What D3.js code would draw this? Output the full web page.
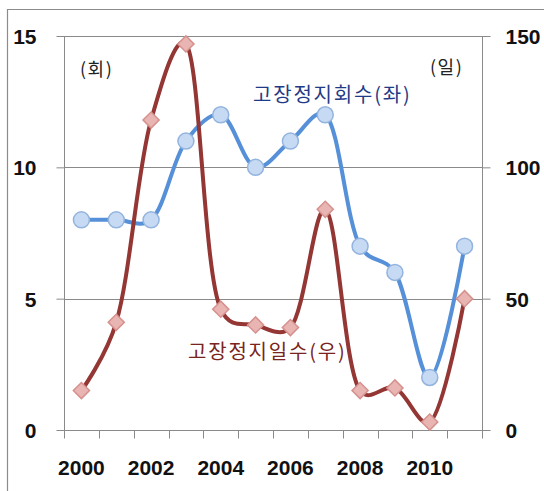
<!DOCTYPE html>
<html>
<head>
<meta charset="utf-8">
<script src="https://cdn.jsdelivr.net/npm/d3@7"></script>
<style>
  html, body { margin: 0; padding: 0; background: #fff; }
  svg { display: block; }
</style>
</head>
<body>
<svg id="chart" width="544" height="491"></svg>
<script>
// Years on the category axis
const years = [2000, 2001, 2002, 2003, 2004, 2005, 2006, 2007, 2008, 2009, 2010, 2011];
// Number of plant shutdowns (left axis, 회)
const stopCounts = [8, 8, 8, 11, 12, 10, 11, 12, 7, 6, 2, 7];
// Number of shutdown days (right axis, 일)
const stopDays = [15, 41, 118, 147, 46, 40, 39, 84, 15, 16, 3, 50];
// Tick values
const leftTicks = [0, 5, 10, 15];
const rightTicks = [0, 50, 100, 150];
const yearLabels = [2000, 2002, 2004, 2006, 2008, 2010];

const svg = d3.select("#chart");
const plot = { left: 64, right: 482, top: 36, bottom: 430 };

const x = d3.scaleBand().domain(years).range([plot.left, plot.right]).padding(0);
const cx = d => x(d) + x.bandwidth() / 2;
const yL = d3.scaleLinear().domain([0, 15]).range([plot.bottom, plot.top]);
const yR = d3.scaleLinear().domain([0, 150]).range([plot.bottom, plot.top]);

// Outer frame (left and top edges)
svg.append("path")
  .attr("d", "M7.5,491 L7.5,9.5 L544,9.5")
  .attr("fill", "none").attr("stroke", "#8c8c8c").attr("stroke-width", 1.2);

// Horizontal gridlines
svg.append("g").selectAll("line").data(leftTicks.filter(t => t > 0)).join("line")
  .attr("x1", plot.left).attr("x2", plot.right)
  .attr("y1", d => Math.round(yL(d)) + 0.5).attr("y2", d => Math.round(yL(d)) + 0.5)
  .attr("stroke", "#8a8a8a").attr("stroke-width", 1);

const tickFont = "'Liberation Sans', Arial, sans-serif";

// Left axis
const leftAxis = svg.append("g")
  .attr("transform", `translate(${plot.left + 0.5},0)`)
  .call(d3.axisLeft(yL).tickValues(leftTicks).tickSize(8).tickPadding(20).tickSizeOuter(0));
// Right axis
const rightAxis = svg.append("g")
  .attr("transform", `translate(${plot.right + 0.5},0)`)
  .call(d3.axisRight(yR).tickValues(rightTicks).tickSize(8).tickPadding(15).tickSizeOuter(0));
// Bottom axis: tick marks on band boundaries, labels every other year
const bottomAxis = svg.append("g")
  .attr("transform", `translate(0,${plot.bottom + 0.5})`);
bottomAxis.append("line")
  .attr("x1", plot.left).attr("x2", plot.right)
  .attr("stroke", "#8a8a8a");
const boundaries = years.map(d => x(d)).concat([plot.right]);
bottomAxis.selectAll("line.tk").data(boundaries).join("line").attr("class", "tk")
  .attr("x1", d => Math.round(d) + 0.5).attr("x2", d => Math.round(d) + 0.5)
  .attr("y1", 0).attr("y2", 8).attr("stroke", "#8a8a8a");
bottomAxis.selectAll("text").data(yearLabels).join("text")
  .attr("x", d => cx(d)).attr("y", 44)
  .attr("text-anchor", "middle")
  .text(d => d);

[leftAxis, rightAxis].forEach(g => {
  g.select(".domain").attr("stroke", "#8a8a8a").attr("d", `M0,${plot.top}V${plot.bottom + 8}`);
  g.selectAll(".tick line").attr("stroke", "#8a8a8a");
});
svg.selectAll("g text")
  .attr("font-family", tickFont).attr("font-weight", "bold")
  .attr("font-size", 21).attr("fill", "#111");
leftAxis.selectAll("text").attr("dy", "0.36em");
rightAxis.selectAll("text").attr("dy", "0.36em");

// Smoothed lines, close to spreadsheet-style smoothing
const smooth = d3.curveCatmullRom.alpha(0.3);

// Shutdown counts line (left axis)
const lineL = d3.line().x((d, i) => cx(years[i])).y(d => yL(d)).curve(smooth);
svg.append("path").datum(stopCounts)
  .attr("d", lineL).attr("fill", "none")
  .attr("stroke", "#5590d8").attr("stroke-width", 4).attr("stroke-linejoin", "round");
svg.append("g").selectAll("circle").data(stopCounts).join("circle")
  .attr("cx", (d, i) => cx(years[i])).attr("cy", d => yL(d)).attr("r", 8)
  .attr("fill", "#c7daf3").attr("stroke", "#93b4df").attr("stroke-width", 1.5);

// Shutdown days line (right axis)
const lineR = d3.line().x((d, i) => cx(years[i])).y(d => yR(d)).curve(smooth);
svg.append("path").datum(stopDays)
  .attr("d", lineR).attr("fill", "none")
  .attr("stroke", "#933634").attr("stroke-width", 4).attr("stroke-linejoin", "round");
const diamond = d3.symbol().type(d3.symbolSquare).size(130);
svg.append("g").selectAll("path").data(stopDays).join("path")
  .attr("transform", (d, i) => `translate(${cx(years[i])},${yR(d)}) rotate(45)`)
  .attr("d", diamond)
  .attr("fill", "#e8b5b3").attr("stroke", "#d6908d").attr("stroke-width", 1.5);

// Annotations
const kFont = "'Noto Sans CJK KR', 'Noto Sans', sans-serif";
svg.append("text").attr("x", 80).attr("y", 76).text("(회)")
  .attr("font-family", kFont).attr("font-size", 18).attr("letter-spacing", 1.5).attr("fill", "#222");
svg.append("text").attr("x", 430).attr("y", 74).text("(일)")
  .attr("font-family", kFont).attr("font-size", 18).attr("letter-spacing", 1.5).attr("fill", "#222");
svg.append("text").attr("x", 253).attr("y", 102).text("고장정지회수(좌)")
  .attr("font-family", kFont).attr("font-size", 20).attr("letter-spacing", 1.8).attr("fill", "#1f3a86");
svg.append("text").attr("x", 188).attr("y", 359).text("고장정지일수(우)")
  .attr("font-family", kFont).attr("font-size", 20).attr("letter-spacing", 1.8).attr("fill", "#7a2420");
</script>
</body>
</html>
